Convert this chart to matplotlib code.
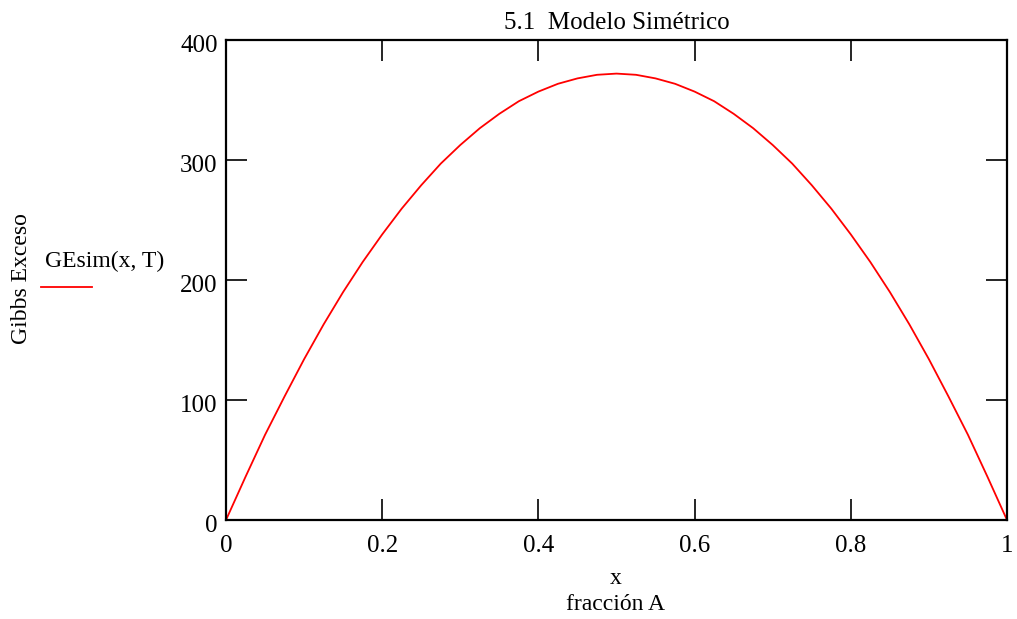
import matplotlib
matplotlib.use("Agg")
import matplotlib.pyplot as plt
import matplotlib.transforms as mtransforms

plt.rcParams['font.family'] = ['Liberation Serif', 'DejaVu Serif']

# valores (fraccion A vs Gibbs exceso)
x_frac = [0.0, 0.025, 0.05, 0.075, 0.1, 0.125, 0.15, 0.175, 0.2, 0.225,
          0.25, 0.275, 0.3, 0.325, 0.35, 0.375, 0.4, 0.425, 0.45, 0.475,
          0.5, 0.525, 0.55, 0.575, 0.6, 0.625, 0.65, 0.675, 0.7, 0.725,
          0.75, 0.775, 0.8, 0.825, 0.85, 0.875, 0.9, 0.925, 0.95, 0.975, 1.0]
ge_sim = [0, 36, 71, 103, 134, 163, 190, 215, 238, 259.5,
          279, 297, 312.5, 326.5, 338.5, 349, 357, 363.5, 368, 371,
          372, 371, 368, 363.5, 357, 349, 338.5, 326.5, 312.5, 297,
          279, 259.5, 238, 215, 190, 163, 134, 103, 71, 36, 0]
xticks = [0, 0.2, 0.4, 0.6, 0.8, 1]
yticks = [0, 100, 200, 300, 400]

fig = plt.figure(figsize=(10.17, 6.19), dpi=100)
ax = fig.add_axes([226/1017, 1 - 520/619, (1007 - 226)/1017, (520 - 40)/619])

ax.plot(x_frac, ge_sim, color='red', lw=1.3)

ax.set_xlim(0, 1)
ax.set_ylim(0, 400)
ax.set_xticks(xticks)
ax.set_xticklabels(['0', '0.2', '0.4', '0.6', '0.8', '1'])
ax.set_yticks(yticks)
ax.tick_params(direction='in', length=15, width=1.2, top=True, right=True,
               labelsize=18, labeltop=False, labelright=False)
ax.tick_params(axis='x', pad=11)
ax.tick_params(axis='y', pad=6)
off = mtransforms.ScaledTranslation(0, -4/100, fig.dpi_scale_trans)
for lab in ax.get_yticklabels():
    lab.set_transform(lab.get_transform() + off)
for s in ax.spines.values():
    s.set_linewidth(1.6)

ax.set_title('5.1  Modelo Simétrico', fontsize=18, pad=8)
fig.text(616/1017, 1 - 579/619, 'x', ha='center', va='center', fontsize=17)
fig.text(616/1017, 1 - 605/619, 'fracción A', ha='center', va='center', fontsize=17)
fig.text(22/1017, 1 - 279/619, 'Gibbs Exceso', rotation=90, ha='center', va='center', fontsize=17)

# leyenda estilo Mathcad
fig.text(45/1017, 1 - 261/619, 'GEsim(x, T)', ha='left', va='center', fontsize=17)
fig.add_artist(plt.Line2D([41/1017, 92/1017], [1 - 287/619, 1 - 287/619],
                          color='red', lw=1.3, transform=fig.transFigure))

fig.savefig('out.png', dpi=100)
